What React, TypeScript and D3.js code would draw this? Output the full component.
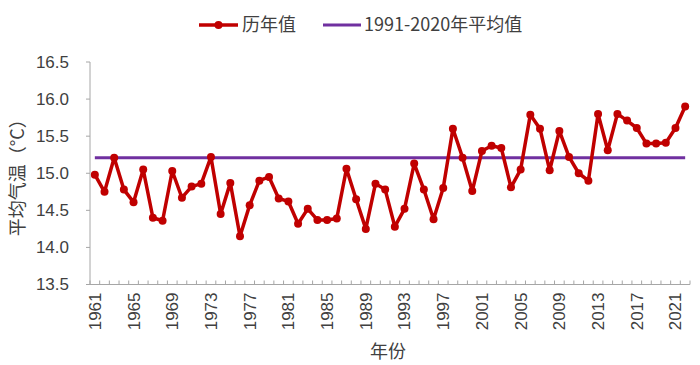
import React from "react";
import * as d3 from "d3";

// 历年平均气温 (°C)
const years: number[] = d3.range(1961, 2023);
const tempValues: number[] = [
    14.98, 14.75, 15.21, 14.78, 14.61, 15.05, 14.40, 14.36, 15.03, 14.67,
    14.82, 14.86, 15.22, 14.45, 14.87, 14.15, 14.57, 14.90, 14.95, 14.66,
    14.62, 14.32, 14.52, 14.37, 14.37, 14.39, 15.06, 14.65, 14.25, 14.86,
    14.78, 14.28, 14.52, 15.13, 14.78, 14.38, 14.80, 15.60, 15.21, 14.76,
    15.30, 15.37, 15.34, 14.81, 15.05, 15.79, 15.60, 15.04, 15.57, 15.22,
    15.00, 14.90, 15.80, 15.31, 15.80, 15.71, 15.61, 15.40, 15.40, 15.41,
    15.61, 15.90,
];
const normalValue = 15.21;
const yTicks: number[] = [13.5, 14.0, 14.5, 15.0, 15.5, 16.0, 16.5];
const xTickLabels: number[] = [1961, 1965, 1969, 1973, 1977, 1981, 1985, 1989, 1993, 1997, 2001, 2005, 2009, 2013, 2017, 2021];

const width = 700;
const height = 365;
const margin = { top: 62, right: 10, bottom: 80.5, left: 90 };
const font = "'Liberation Sans', 'Noto Sans CJK SC', sans-serif";
const cjkFont = "'Noto Sans CJK SC', 'Liberation Sans', sans-serif";
const red = "#C00000";
const purple = "#7030A0";
const axisColor = "#A6A6A6";
const textColor = "#404040";

export default function App() {
    const x = d3
        .scaleBand<number>()
        .domain(years)
        .range([margin.left, width - margin.right]);
    const y = d3
        .scaleLinear()
        .domain([13.5, 16.5])
        .range([height - margin.bottom, margin.top]);
    const cx = (yr: number) => (x(yr) ?? 0) + x.bandwidth() / 2;

    const line = d3
        .line<number>()
        .x((_, i) => cx(years[i]))
        .y((d) => y(d));

    const bottom = height - margin.bottom;
    const first = cx(years[0]);
    const last = cx(years[years.length - 1]);

    return (
        <svg
            width={width}
            height={height}
            style={{ position: "absolute", left: 0, top: 0, background: "#fff" }}
        >
            {/* legend */}
            <g transform="translate(0,25)">
                <line x1={199} x2={238} y1={0} y2={0} stroke={red} strokeWidth={3.5} />
                <circle cx={218.5} cy={0} r={4} fill={red} />
                <text x={242} y={6} fontSize={18} fill={textColor} fontFamily={cjkFont}>历年值</text>
                <line x1={323} x2={361} y1={0} y2={0} stroke={purple} strokeWidth={3} />
                <text x={364} y={6} fontSize={18} fill={textColor} fontFamily={cjkFont}>1991-2020年平均值</text>
            </g>

            {/* y axis */}
            <line x1={margin.left} x2={margin.left} y1={margin.top} y2={bottom} stroke={axisColor} />
            {yTicks.map((t) => (
                <g key={t}>
                    <line x1={margin.left - 4} x2={margin.left} y1={y(t)} y2={y(t)} stroke={axisColor} />
                    <text
                        x={margin.left - 21}
                        y={y(t)}
                        dy="0.35em"
                        textAnchor="end"
                        fontSize={17}
                        fill={textColor}
                        fontFamily={font}
                    >
                        {t.toFixed(1)}
                    </text>
                </g>
            ))}

            {/* x axis */}
            <line x1={margin.left} x2={width - margin.right} y1={bottom} y2={bottom} stroke={axisColor} />
            {years.concat([years[years.length - 1] + 1]).map((yr, i) => {
                const xp = i < years.length ? x(yr) ?? 0 : width - margin.right;
                return <line key={yr} x1={xp} x2={xp} y1={bottom - 4} y2={bottom} stroke={axisColor} />;
            })}
            {xTickLabels.map((yr) => (
                <text
                    key={yr}
                    transform={`translate(${cx(yr)},${bottom + 8}) rotate(-90)`}
                    dy="0.35em"
                    textAnchor="end"
                    fontSize={17}
                    fill={textColor}
                    fontFamily={font}
                >
                    {yr}
                </text>
            ))}

            {/* axis titles */}
            <text x={388} y={358} textAnchor="middle" fontSize={18} fill={textColor} fontFamily={cjkFont}>年份</text>
            <text
                transform={`translate(24,${(margin.top + bottom) / 2}) rotate(-90)`}
                textAnchor="middle"
                fontSize={18}
                fill={textColor}
                fontFamily={cjkFont}
            >
                平均气温（°C）
            </text>

            {/* 1991-2020 average */}
            <line x1={first} x2={last} y1={y(normalValue)} y2={y(normalValue)} stroke={purple} strokeWidth={3} />

            {/* yearly values */}
            <path d={line(tempValues) ?? ""} fill="none" stroke={red} strokeWidth={3.5} strokeLinejoin="round" />
            {tempValues.map((v, i) => (
                <circle key={years[i]} cx={cx(years[i])} cy={y(v)} r={4} fill={red} />
            ))}
        </svg>
    );
}
